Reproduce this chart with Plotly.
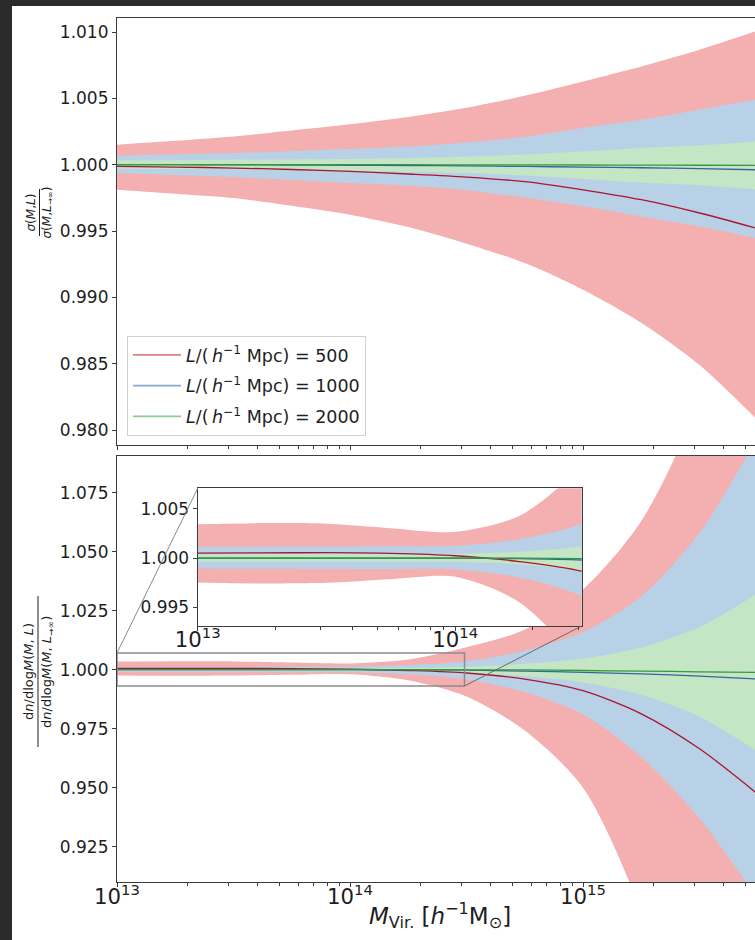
import math
import plotly.graph_objects as go

# ---------------- data ----------------
log_mass = [13.0, 13.25, 13.5, 13.75, 14.0, 14.25, 14.5, 14.75, 15.0, 15.25, 15.5, 15.74]
box_labels = ["500", "1000", "2000"]

# top panel: sigma(M,L)/sigma(M,L->inf)
sigma_500_mid = [0.99987, 0.99982, 0.99975, 0.99964, 0.99950, 0.99930, 0.99907, 0.99872, 0.99811, 0.99736, 0.99636, 0.99523]
sigma_500_hi = [1.00151, 1.00180, 1.00213, 1.00258, 1.00305, 1.00360, 1.00430, 1.00520, 1.00628, 1.00741, 1.00867, 1.01005]
sigma_500_lo = [0.99811, 0.99781, 0.99749, 0.99690, 0.99623, 0.99530, 0.99405, 0.99259, 0.99058, 0.98809, 0.98490, 0.98090]

sigma_1000_mid = [1.00000, 1.00000, 0.99999, 0.99998, 0.99996, 0.99994, 0.99991, 0.99987, 0.99982, 0.99977, 0.99970, 0.99962]
sigma_1000_hi = [1.00068, 1.00078, 1.00088, 1.00102, 1.00118, 1.00137, 1.00168, 1.00210, 1.00277, 1.00339, 1.00415, 1.00490]
sigma_1000_lo = [0.99937, 0.99922, 0.99907, 0.99885, 0.99862, 0.99843, 0.99808, 0.99752, 0.99686, 0.99610, 0.99535, 0.99447]

sigma_2000_mid = [1.00001, 1.00001, 1.00001, 1.00000, 1.00000, 1.00000, 0.99999, 0.99999, 0.99998, 0.99997, 0.99996, 0.99995]
sigma_2000_hi = [1.00033, 1.00035, 1.00038, 1.00040, 1.00043, 1.00050, 1.00062, 1.00078, 1.00100, 1.00126, 1.00146, 1.00176]
sigma_2000_lo = [0.99970, 0.99968, 0.99965, 0.99960, 0.99955, 0.99947, 0.99937, 0.99918, 0.99893, 0.99865, 0.99845, 0.99815]

# bottom panel: dn/dlogM(M,L) / dn/dlogM(M,L->inf)
hmf_500_mid = [1.00050, 1.00053, 1.00055, 1.00048, 1.00024, 0.99965, 0.99860, 0.99600, 0.99110, 0.98130, 0.96650, 0.94810]
hmf_500_hi = [1.00345, 1.00356, 1.00350, 1.00305, 1.00267, 1.00430, 1.00950, 1.01700, 1.03400, 1.06300, 1.11500, 1.21000]
hmf_500_lo = [0.99752, 0.99742, 0.99749, 0.99786, 0.99810, 0.99550, 0.98860, 0.97420, 0.95000, 0.89700, 0.80600, 0.67000]

hmf_1000_mid = [1.00000, 1.00000, 1.00000, 1.00000, 1.00000, 0.99995, 0.99980, 0.99940, 0.99890, 0.99820, 0.99730, 0.99610]
hmf_1000_hi = [1.00115, 1.00117, 1.00118, 1.00120, 1.00125, 1.00193, 1.00360, 1.00800, 1.01600, 1.03100, 1.05800, 1.09700]
hmf_1000_lo = [0.99898, 0.99895, 0.99893, 0.99890, 0.99888, 0.99803, 0.99600, 0.99050, 0.98100, 0.96300, 0.93700, 0.90400]

hmf_2000_mid = [1.00000, 1.00000, 1.00000, 1.00000, 1.00000, 1.00000, 0.99995, 0.99990, 0.99965, 0.99940, 0.99910, 0.99887]
hmf_2000_hi = [1.00041, 1.00041, 1.00041, 1.00041, 1.00042, 1.00064, 1.00120, 1.00250, 1.00470, 1.00940, 1.01810, 1.03180]
hmf_2000_lo = [0.99965, 0.99965, 0.99965, 0.99964, 0.99963, 0.99939, 0.99870, 0.99730, 0.99460, 0.98940, 0.98010, 0.96590]

# axis settings
x_range_log = [13.0, 15.738]
top_y_range = [0.97887, 1.01106]
bot_y_range = [0.91004, 1.09055]
inset_x_max = 3.1e14
inset_y_range = [0.9931, 1.0071]

# ---------------- styling ----------------
FONT = "DejaVu Sans"
AX = "#3c3c3c"
FILLS = ["#f4afb1", "#b9d1e7", "#c4e6c4"]
LINES = ["#a8172f", "#3466a0", "#339a38"]
LEGEND_LINES = ["#de8085", "#86a9d1", "#8fcb8f"]

mass = [10 ** v for v in log_mass]
sigma_sets = [(sigma_500_lo, sigma_500_hi, sigma_500_mid),
              (sigma_1000_lo, sigma_1000_hi, sigma_1000_mid),
              (sigma_2000_lo, sigma_2000_hi, sigma_2000_mid)]
hmf_sets = [(hmf_500_lo, hmf_500_hi, hmf_500_mid),
            (hmf_1000_lo, hmf_1000_hi, hmf_1000_mid),
            (hmf_2000_lo, hmf_2000_hi, hmf_2000_mid)]

fig = go.Figure()


def add_panel(xa, ya, sets):
    for i, (lo, hi, _) in enumerate(sets):
        fig.add_trace(go.Scatter(x=mass, y=lo, xaxis=xa, yaxis=ya, mode="lines",
                                 line=dict(width=0, shape="spline", smoothing=0.8),
                                 showlegend=False, hoverinfo="skip"))
        fig.add_trace(go.Scatter(x=mass, y=hi, xaxis=xa, yaxis=ya, mode="lines",
                                 line=dict(width=0, shape="spline", smoothing=0.8),
                                 fill="tonexty", fillcolor=FILLS[i],
                                 showlegend=False, hoverinfo="skip"))
    for i, (_, _, mid) in enumerate(sets):
        fig.add_trace(go.Scatter(x=mass, y=mid, xaxis=xa, yaxis=ya, mode="lines",
                                 line=dict(width=1.3, color=LINES[i], shape="spline", smoothing=0.8),
                                 showlegend=False))


add_panel("x", "y", sigma_sets)
add_panel("x2", "y2", hmf_sets)
add_panel("x3", "y3", hmf_sets)

for i, lab in enumerate(box_labels):
    fig.add_trace(go.Scatter(x=[None], y=[None], xaxis="x", yaxis="y", mode="lines",
                             line=dict(width=1.6, color=LEGEND_LINES[i]),
                             name="<i>L</i>/(\u2009<i>h</i><sup>−1</sup> Mpc) = " + lab,
                             legendgroup="g" + lab, showlegend=True))

# ---------------- layout geometry ----------------
W, H = 755, 940
ML, MR, MT, MB = 117, 0, 18, 58
PW, PH = W - ML - MR, H - MT - MB


def px_to_paper_x(px):
    return (px - ML) / PW


def px_to_paper_y(py):
    return (H - MB - py) / PH


top_dom = [px_to_paper_y(445), 1.0]
bot_dom = [0.0, px_to_paper_y(456)]
inset_dom_x = [px_to_paper_x(197.7), px_to_paper_x(581.7)]
inset_dom_y = [px_to_paper_y(626), px_to_paper_y(488.3)]
inset_x_range = [13.0, math.log10(inset_x_max)]

tickfont = dict(family=FONT, size=17, color="#1e1e1e")
common = dict(showline=True, linecolor=AX, linewidth=1.2, ticks="outside", ticklen=4,
              tickcolor=AX, tickwidth=1.1, showgrid=False, zeroline=False, tickfont=tickfont)
minor = dict(ticks="outside", ticklen=2.5, tickcolor=AX, tickwidth=0.8, dtick="D1", showgrid=False)

fig.update_layout(
    width=W, height=H,
    margin=dict(l=ML, r=MR, t=MT, b=MB, pad=0),
    paper_bgcolor="#2b2b2b", plot_bgcolor="white",
    font=dict(family=FONT, color="#1e1e1e"),
    xaxis=dict(domain=[0, 1], anchor="y", type="log", range=x_range_log, dtick=1,
               showticklabels=False, mirror=True, minor=minor, **common),
    yaxis=dict(domain=top_dom, anchor="x", range=top_y_range, tick0=0.98, dtick=0.005,
               tickformat=".3f", **common),
    xaxis2=dict(domain=[0, 1], anchor="y2", type="log", range=x_range_log, dtick=1,
                exponentformat="power", mirror=True, minor=minor, ticklabelstandoff=-8,
                **common),
    yaxis2=dict(domain=bot_dom, anchor="x2", range=bot_y_range, tick0=0.925, dtick=0.025,
                tickformat=".3f", **common),
    xaxis3=dict(domain=inset_dom_x, anchor="y3", type="log", range=inset_x_range, dtick=1,
                exponentformat="power", mirror=True, minor=minor, ticklabelstandoff=-9, **common),
    yaxis3=dict(domain=inset_dom_y, anchor="x3", range=inset_y_range, tick0=0.995, dtick=0.005,
                tickformat=".3f", mirror=True, **common),
    legend=dict(x=px_to_paper_x(127), y=px_to_paper_y(436), xanchor="left", yanchor="bottom",
                bgcolor="rgba(255,255,255,0.85)", bordercolor="#d0d0d0", borderwidth=1,
                font=dict(family=FONT, size=17.5, color="#1e1e1e"),
                traceorder="grouped", tracegroupgap=5, itemwidth=48),
    showlegend=True,
)


# main-panel coordinates -> paper
def main_px(logv):
    return (logv - x_range_log[0]) / (x_range_log[1] - x_range_log[0])


def main_py(v):
    return bot_dom[0] + (bot_dom[1] - bot_dom[0]) * (v - bot_y_range[0]) / (bot_y_range[1] - bot_y_range[0])


shapes = [
    # white figure area (the dark band is the screenshot frame)
    dict(type="rect", xref="paper", yref="paper", x0=px_to_paper_x(12), x1=1.02,
         y0=px_to_paper_y(945), y1=px_to_paper_y(6), fillcolor="white", line=dict(width=0), layer="below"),
    # inset background
    dict(type="rect", xref="x3", yref="y3", x0=10 ** inset_x_range[0], x1=inset_x_max,
         y0=inset_y_range[0], y1=inset_y_range[1], fillcolor="white", line=dict(width=0), layer="below"),
    # indicated region in the main panel
    dict(type="rect", xref="x2", yref="y2", x0=10 ** inset_x_range[0], x1=inset_x_max,
         y0=inset_y_range[0], y1=inset_y_range[1], line=dict(color="#8c8c8c", width=1.5), layer="above"),
    # connectors
    dict(type="line", xref="paper", yref="paper", x0=main_px(inset_x_range[0]), y0=main_py(inset_y_range[1]),
         x1=inset_dom_x[0], y1=inset_dom_y[1], line=dict(color="#8a8a8a", width=1), layer="above"),
    dict(type="line", xref="paper", yref="paper", x0=main_px(inset_x_range[1]), y0=main_py(inset_y_range[0]),
         x1=inset_dom_x[1], y1=inset_dom_y[0], line=dict(color="#6a6a6a", width=1), layer="above"),
    # fraction bars of the y labels
    dict(type="line", xref="paper", yref="paper", x0=px_to_paper_x(39.5), x1=px_to_paper_x(39.5),
         y0=px_to_paper_y(189), y1=px_to_paper_y(236), line=dict(color="#1e1e1e", width=1)),
    dict(type="line", xref="paper", yref="paper", x0=px_to_paper_x(38), x1=px_to_paper_x(38),
         y0=px_to_paper_y(596), y1=px_to_paper_y(747), line=dict(color="#1e1e1e", width=1)),
]
fig.update_layout(shapes=shapes)

top_font = dict(family=FONT, size=12, color="#1e1e1e")
bot_font = dict(family=FONT, size=13, color="#1e1e1e")
annotations = [
    dict(text="<i>σ</i>(<i>M</i>,<i>L</i>)", x=px_to_paper_x(31), y=px_to_paper_y(212.5),
         xref="paper", yref="paper", textangle=-90, showarrow=False, font=top_font,
         xanchor="center", yanchor="middle"),
    dict(text="<i>σ</i>(<i>M</i>,<i>L</i><sub>→∞</sub>)", x=px_to_paper_x(48), y=px_to_paper_y(212.5),
         xref="paper", yref="paper", textangle=-90, showarrow=False, font=top_font,
         xanchor="center", yanchor="middle"),
    dict(text="d<i>n</i>/dlog<i>M</i>(<i>M</i>, <i>L</i>)", x=px_to_paper_x(28), y=px_to_paper_y(672),
         xref="paper", yref="paper", textangle=-90, showarrow=False, font=bot_font,
         xanchor="center", yanchor="middle"),
    dict(text="d<i>n</i>/dlog<i>M</i>(<i>M</i>, <i>L</i><sub>→∞</sub>)", x=px_to_paper_x(47), y=px_to_paper_y(672),
         xref="paper", yref="paper", textangle=-90, showarrow=False, font=bot_font,
         xanchor="center", yanchor="middle"),
    # x-axis title
    dict(text="<i>M</i><sub>Vir.</sub> [<i>h</i><sup>−1</sup>M<sub>⊙</sub>]",
         x=px_to_paper_x(440), y=px_to_paper_y(915), xref="paper", yref="paper",
         showarrow=False, font=dict(family=FONT, size=23, color="#1e1e1e"),
         xanchor="center", yanchor="middle"),
]
fig.update_layout(annotations=annotations)

fig.write_html("out.html")
